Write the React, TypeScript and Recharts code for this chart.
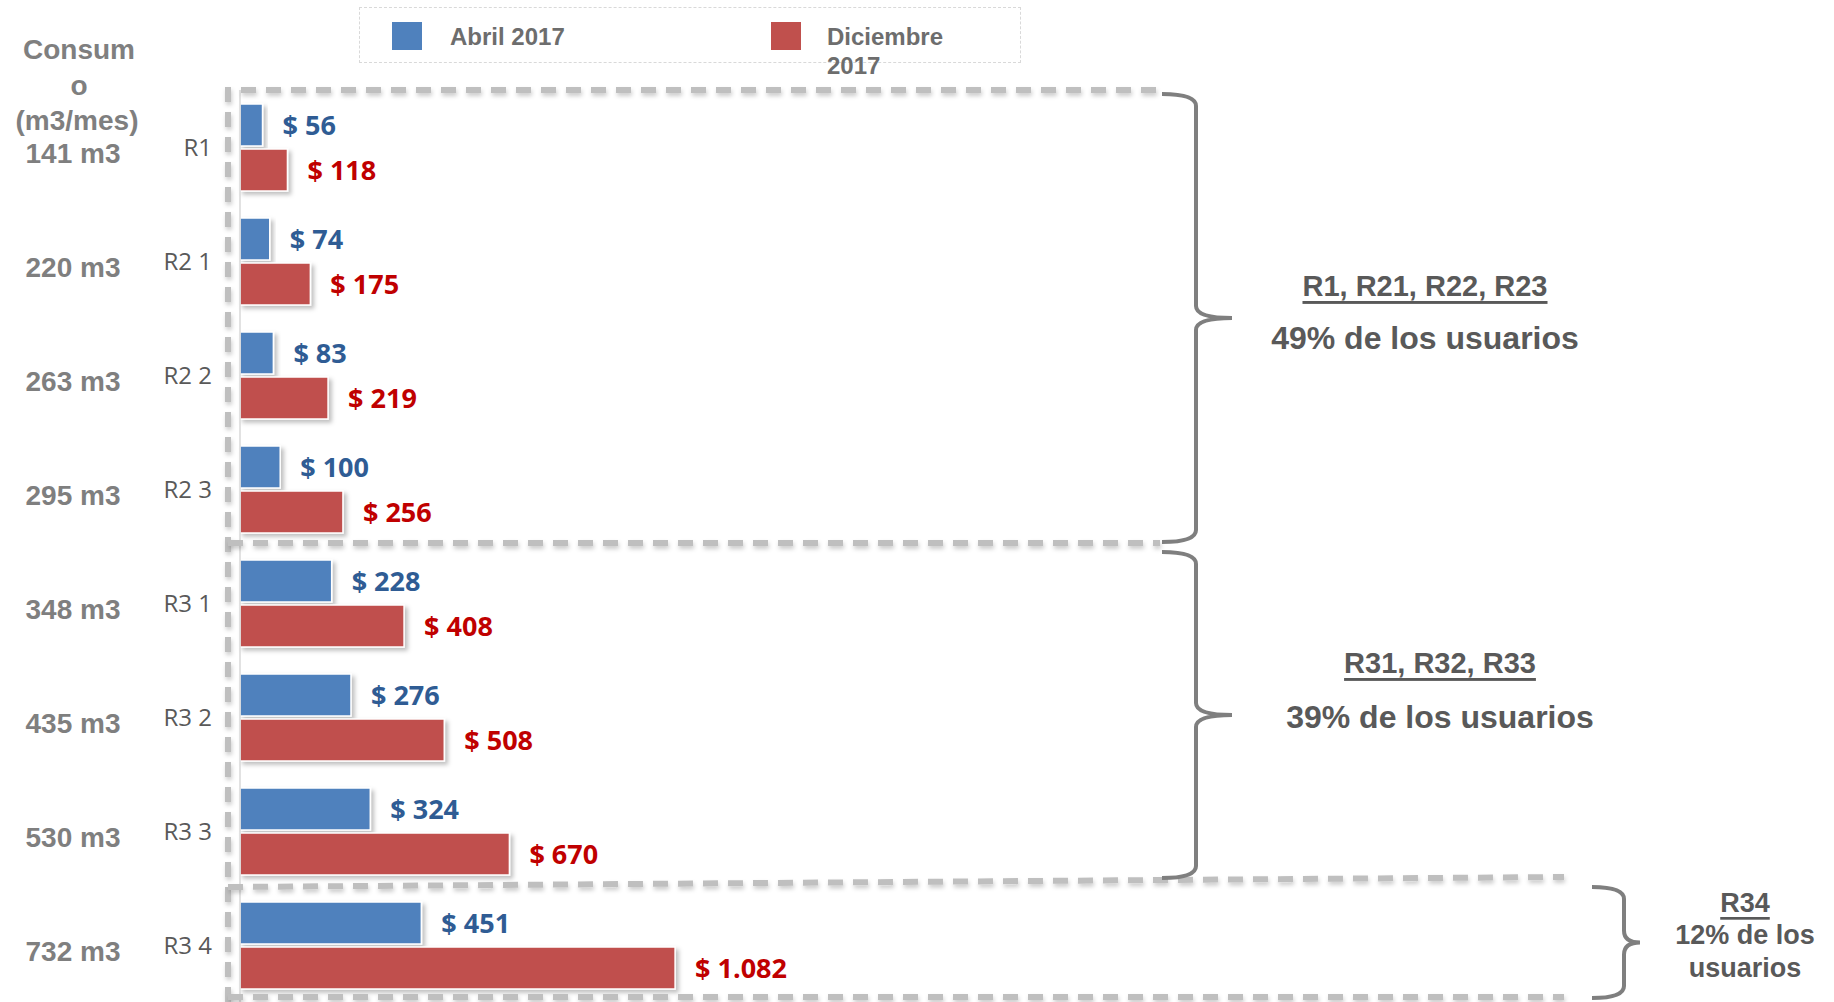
import { Bar, BarChart, LabelList, XAxis, YAxis } from "recharts";

const categories = ["R1", "R2 1", "R2 2", "R2 3", "R3 1", "R3 2", "R3 3", "R3 4"];
const consumo = ["141 m3", "220 m3", "263 m3", "295 m3", "348 m3", "435 m3", "530 m3", "732 m3"];
const abril2017 = [56, 74, 83, 100, 228, 276, 324, 451];
const diciembre2017 = [118, 175, 219, 256, 408, 508, 670, 1082];

const seriesNames = ["Abril 2017", "Diciembre 2017"];
const seriesColors = ["#4f81bd", "#c0504d"];
const labelColors = ["#2f5c94", "#c00000"];

const groupTitles = ["R1, R21, R22, R23", "R31, R32, R33", "R34"];
const groupTexts = [["49% de los usuarios"], ["39% de los usuarios"], ["12% de los", "usuarios"]];
const groupRanges = [
  [0, 3],
  [4, 6],
  [7, 7],
];

const data = categories.map((cat, i) => ({
  cat,
  abril: abril2017[i],
  diciembre: diciembre2017[i],
}));

// layout
const W = 1834;
const H = 1002;
const TOP = 90;
const BAND = (H - TOP) / categories.length;
const GRAY = "#7f7f7f";
const DARK = "#595959";

const money = (v: number) => "$ " + String(v).replace(/\B(?=(\d{3})+(?!\d))/g, ".");

const CatTick = (props: any) => {
  const { y, index, payload } = props;
  return (
    <g>
      <text
        x={212}
        y={y - 1}
        textAnchor="end"
        dominantBaseline="central"
        fontFamily="Open Sans"
        fontSize={24}
        fill={DARK}
      >
        {payload.value}
      </text>
      <text
        x={73}
        y={y + 6}
        textAnchor="middle"
        dominantBaseline="central"
        fontFamily="Liberation Sans"
        fontWeight={700}
        fontSize={28}
        fill={GRAY}
      >
        {consumo[index]}
      </text>
    </g>
  );
};

const ShadowBar = (p: any) => (
  <rect
    x={p.x}
    y={p.y}
    width={p.width}
    height={p.height}
    fill={p.fill}
    stroke="#fff"
    strokeWidth={1.5}
    filter="url(#barShadow)"
  />
);

function brace(xEnd: number, xSpine: number, xTip: number, top: number, bottom: number) {
  const mid = (top + bottom) / 2;
  const r = 12;
  return [
    `M ${xEnd} ${top}`,
    `Q ${xSpine} ${top} ${xSpine} ${top + r}`,
    `L ${xSpine} ${mid - r}`,
    `Q ${xSpine} ${mid} ${xTip} ${mid}`,
    `Q ${xSpine} ${mid} ${xSpine} ${mid + r}`,
    `L ${xSpine} ${bottom - r}`,
    `Q ${xSpine} ${bottom} ${xEnd} ${bottom}`,
  ].join(" ");
}

function Overlay() {
  const edge = (i: number) => TOP + i * BAND;
  const g1Top = edge(groupRanges[0][0]);
  const g1Bot = edge(groupRanges[0][1] + 1);
  const g2Bot = edge(groupRanges[1][1] + 1);
  const g3Bot = edge(groupRanges[2][1] + 1);
  const dash = {
    stroke: "#bfbfbf",
    strokeWidth: 6,
    strokeDasharray: "15 10",
    fill: "none",
    filter: "url(#lineShadow)",
  };
  const mid1 = (g1Top + g1Bot) / 2;
  const mid2 = (g1Bot + g2Bot) / 2;
  const mid3 = (g2Bot + g3Bot) / 2;
  const titleStyle = {
    fontFamily: "Liberation Sans",
    fontWeight: 700,
    fill: DARK,
    textAnchor: "middle" as const,
    textDecoration: "underline",
  };
  const textStyle = {
    fontFamily: "Liberation Sans",
    fontWeight: 700,
    fill: DARK,
    textAnchor: "middle" as const,
  };
  return (
    <svg
      width={W}
      height={H}
      style={{ position: "absolute", left: 0, top: 0, pointerEvents: "none" }}
    >
      <defs>
        <filter id="barShadow" x="-10%" y="-20%" width="130%" height="160%">
          <feDropShadow dx="3" dy="3" stdDeviation="2" floodColor="#000" floodOpacity="0.25" />
        </filter>
        <filter id="lineShadow" filterUnits="userSpaceOnUse" x={0} y={0} width={W} height={H}>
          <feDropShadow dx="1" dy="3" stdDeviation="2" floodColor="#000" floodOpacity="0.2" />
        </filter>
      </defs>

      {/* header of first column */}
      <g fontFamily="Liberation Sans" fontWeight={700} fontSize={28} fill={GRAY} textAnchor="middle">
        <text x={79} y={49} dominantBaseline="central">Consum</text>
        <text x={79} y={85} dominantBaseline="central">o</text>
        <text x={77} y={120} dominantBaseline="central">(m3/mes)</text>
      </g>

      {/* dashed group boxes */}
      <path d={`M 228 ${g3Bot} L 228 ${g1Top} L 1160 ${g1Top}`} {...dash} />
      <line x1={228} y1={g1Bot - 3} x2={1160} y2={g1Bot - 3} {...dash} />
      <line x1={228} y1={g2Bot - 1} x2={1564} y2={g2Bot - 11} {...dash} />
      <line x1={228} y1={g3Bot - 5} x2={1564} y2={g3Bot - 5} {...dash} />

      {/* braces */}
      <g stroke={GRAY} strokeWidth={4} fill="none">
        <path d={brace(1162, 1196, 1232, g1Top + 4, g1Bot - 4)} />
        <path d={brace(1162, 1196, 1232, g1Bot + 6, g2Bot - 10)} />
        <path d={brace(1592, 1624, 1640, g2Bot - 1, g3Bot - 4)} />
      </g>

      <text x={1425} y={mid1 - 32} fontSize={29} dominantBaseline="central" style={titleStyle}>
        {groupTitles[0]}
      </text>
      <text x={1425} y={mid1 + 20} fontSize={32} dominantBaseline="central" style={textStyle}>
        {groupTexts[0][0]}
      </text>
      <text x={1440} y={mid2 - 54} fontSize={29} dominantBaseline="central" style={titleStyle}>
        {groupTitles[1]}
      </text>
      <text x={1440} y={mid2} fontSize={32} dominantBaseline="central" style={textStyle}>
        {groupTexts[1][0]}
      </text>
      <text x={1745} y={mid3 - 42} fontSize={27} dominantBaseline="central" style={titleStyle}>
        {groupTitles[2]}
      </text>
      <text x={1745} y={mid3 - 10} fontSize={27} dominantBaseline="central" style={textStyle}>
        {groupTexts[2][0]}
      </text>
      <text x={1745} y={mid3 + 23} fontSize={27} dominantBaseline="central" style={textStyle}>
        {groupTexts[2][1]}
      </text>
    </svg>
  );
}

function LegendBox() {
  const [abrilName, dicName] = seriesNames;
  const textStyle = {
    position: "absolute" as const,
    fontFamily: "Liberation Sans",
    fontWeight: 700,
    fontSize: 24,
    color: "#6d6d6d",
    lineHeight: "29px",
  };
  return (
    <div
      style={{
        position: "absolute",
        left: 359,
        top: 7,
        width: 660,
        height: 54,
        border: "1px dashed #d9d9d9",
      }}
    >
      <div style={{ position: "absolute", left: 32, top: 14, width: 30, height: 28, background: seriesColors[0] }} />
      <div style={{ ...textStyle, left: 90, top: 14 }}>{abrilName}</div>
      <div style={{ position: "absolute", left: 411, top: 14, width: 30, height: 28, background: seriesColors[1] }} />
      <div style={{ ...textStyle, left: 467, top: 14, width: 130 }}>{dicName}</div>
    </div>
  );
}

export default function App() {
  return (
    <div style={{ position: "relative", width: W, height: H, background: "#fff" }}>
      <style>{`body{margin:0}`}</style>
      <BarChart
        width={W}
        height={H}
        data={data}
        layout="vertical"
        margin={{ top: TOP, right: 834, bottom: 0, left: 0 }}
        barSize={42}
        barGap={3}
      >
        <XAxis type="number" domain={[0, 1890]} hide />
        <YAxis
          type="category"
          dataKey="cat"
          width={240}
          interval={0}
          tickLine={false}
          axisLine={{ stroke: "#d9d9d9", strokeWidth: 1.5 }}
          tick={<CatTick />}
        />
        <Bar dataKey="abril" name={seriesNames[0]} fill={seriesColors[0]} shape={ShadowBar} isAnimationActive={false}>
          <LabelList
            dataKey="abril"
            position="right"
            offset={20}
            formatter={(v: any) => money(Number(v))}
            fill={labelColors[0]}
            fontFamily="Open Sans"
            fontWeight={700}
            fontSize={27}
          />
        </Bar>
        <Bar
          dataKey="diciembre"
          name={seriesNames[1]}
          fill={seriesColors[1]}
          shape={ShadowBar}
          isAnimationActive={false}
        >
          <LabelList
            dataKey="diciembre"
            position="right"
            offset={20}
            formatter={(v: any) => money(Number(v))}
            fill={labelColors[1]}
            fontFamily="Open Sans"
            fontWeight={700}
            fontSize={27}
          />
        </Bar>
      </BarChart>
      <Overlay />
      <LegendBox />
    </div>
  );
}
